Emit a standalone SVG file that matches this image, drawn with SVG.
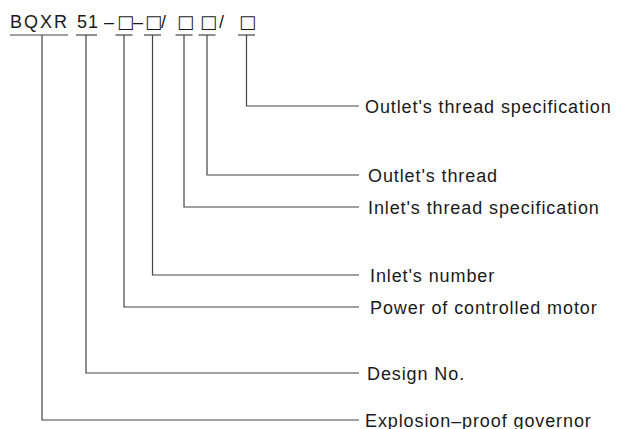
<svg xmlns="http://www.w3.org/2000/svg" width="617" height="429" viewBox="0 0 617 429">
<style>
.t{font-family:"Liberation Sans",Arial,sans-serif;font-size:18px;fill:#1a1a1a;letter-spacing:0.9px}
.code{font-family:"Liberation Sans",Arial,sans-serif;font-size:18px;fill:#1a1a1a}
.box{font-family:"DejaVu Sans",sans-serif;font-size:18px}
.c{fill:none;stroke:#444;stroke-width:1.2}
</style>
<rect width="617" height="429" fill="#fff"/>
<g id="code">
<text class="code" y="28"><tspan x="10" letter-spacing="2">BQXR</tspan><tspan x="77" letter-spacing="1">51</tspan><tspan x="104">–</tspan><tspan class="box" x="117">□</tspan><tspan x="133">–</tspan><tspan class="box" x="145">□</tspan><tspan x="161">/</tspan><tspan class="box" x="177">□</tspan><tspan class="box" x="200">□</tspan><tspan x="219">/</tspan><tspan class="box" x="239">□</tspan></text>
<g class="c">
<line x1="10" y1="35" x2="68" y2="35"/>
<line x1="76" y1="35" x2="97" y2="35"/>
<line x1="115.5" y1="35" x2="132.5" y2="35"/>
<line x1="144" y1="35" x2="161" y2="35"/>
<line x1="175.5" y1="35" x2="192.5" y2="35"/>
<line x1="198.5" y1="35" x2="215.5" y2="35"/>
<line x1="238" y1="35" x2="255" y2="35"/>
</g>
</g>
<g id="connectors" class="c">
<polyline points="246.5,35 246.5,106 359,106"/>
<polyline points="207,35 207,175 359,175"/>
<polyline points="184,35 184,207 359,207"/>
<polyline points="152.5,35 152.5,275 359,275"/>
<polyline points="124,35 124,307 359,307"/>
<polyline points="86,35 86,373 359,373"/>
<polyline points="42,35 42,420 359,420"/>
</g>
<g id="n-outlet-spec"><text class="t" x="365" y="112.5">Outlet's thread specification</text></g>
<g id="n-outlet-thread"><text class="t" x="368" y="181.5">Outlet's thread</text></g>
<g id="n-inlet-spec"><text class="t" x="368" y="213.5">Inlet's thread specification</text></g>
<g id="n-inlet-number"><text class="t" x="370" y="281.5">Inlet's number</text></g>
<g id="n-power"><text class="t" x="370" y="313.5">Power of controlled motor</text></g>
<g id="n-design"><text class="t" x="367" y="379.5">Design No.</text></g>
<g id="n-explosion"><text class="t" x="365" y="426.5">Explosion–proof governor</text></g>
</svg>
